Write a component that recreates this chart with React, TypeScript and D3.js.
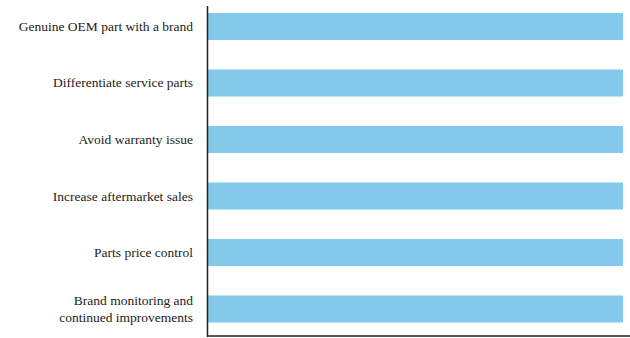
import React from "react";
import * as d3 from "d3";

const categories = [
  "Genuine OEM part with a brand",
  "Differentiate service parts",
  "Avoid warranty issue",
  "Increase aftermarket sales",
  "Parts price control",
  "Brand monitoring and|continued improvements",
];
const values = [100, 100, 100, 100, 100, 100];

const W = 630;
const H = 338;
const axisX = 207.5;
const barRight = 623;
const bottomY = 336;

export default function App() {
  const x = d3.scaleLinear().domain([0, 100]).range([axisX + 0.5, barRight]);
  const y = d3
    .scaleBand<string>()
    .domain(categories)
    .range([0, 335.5])
    .paddingInner(0.522)
    .paddingOuter(0.23);
  const bw = y.bandwidth();
  return (
    <svg
      width={W}
      height={H}
      style={{
        position: "absolute",
        left: 0,
        top: 0,
        background: "#fff",
        fontFamily: '"Liberation Serif", Tinos, "Times New Roman", "DejaVu Serif", serif',
      }}
    >
      {categories.map((c, i) => (
        <rect
          key={c}
          x={x(0)}
          y={y(c)!}
          width={x(values[i]) - x(0)}
          height={bw}
          fill="#83c9ea"
        />
      ))}
      {categories.map((c) => {
        const lines = c.split("|");
        const cy = y(c)! + bw / 2;
        const lh = 17;
        return (
          <text
            key={"t" + c}
            x={193}
            textAnchor="end"
            fontSize={13.5}
            fill="#222"
            style={{ fontFamily: '"Liberation Serif", Tinos, "Times New Roman", "DejaVu Serif", serif' }}
          >
            {lines.map((l, j) => (
              <tspan
                key={j}
                x={193}
                y={cy + (j - (lines.length - 1) / 2) * lh + 4.5}
              >
                {l}
              </tspan>
            ))}
          </text>
        );
      })}
      <line x1={axisX} x2={axisX} y1={6} y2={bottomY + 1} stroke="#222" strokeWidth={1.5} />
      <line x1={axisX} x2={W} y1={bottomY} y2={bottomY} stroke="#222" strokeWidth={1.5} />
    </svg>
  );
}
